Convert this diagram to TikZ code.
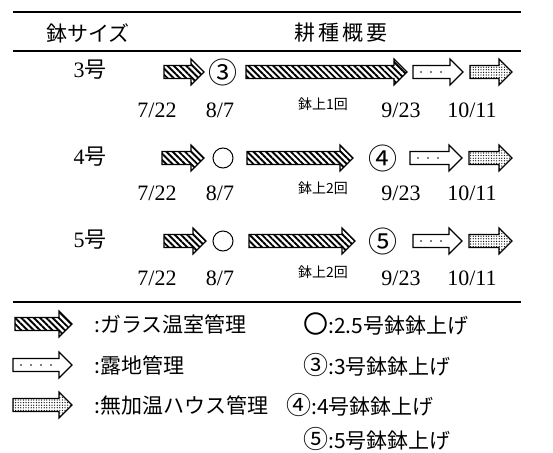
\documentclass[tikz,border=0pt]{standalone}
\usepackage{fontspec}
\setmainfont{Liberation Serif}
\newfontfamily\jp{Noto Sans CJK JP}
\usetikzlibrary{patterns,patterns.meta}
\tikzset{
  glass/.style={draw=black, line width=1.2pt, fill=white, postaction={pattern={Lines[angle=-45,distance=4.4pt,line width=1.9pt]}}},
  openfield/.style={draw=black, line width=1.2pt, fill=white},
  house/.style={draw=black, line width=1.2pt, fill=white, postaction={pattern={Dots[distance=2.6pt,radius=0.65pt]}}},
  rule/.style={line width=2.2pt},
  datelbl/.style={font=\fontsize{22}{24}\selectfont, inner sep=0pt},
  sizelbl/.style={font=\fontsize{22}{24}\selectfont, inner sep=0pt},
  potlbl/.style={font=\jp\fontsize{14}{16}\selectfont, inner sep=0pt},
  circnum/.style={font=\jp\fontsize{29}{30}\selectfont, inner sep=0pt},
  legtxt/.style={font=\jp\fontsize{21}{24}\selectfont, inner sep=0pt, anchor=west},
  hdr/.style={font=\jp\fontsize{21}{24}\selectfont, inner sep=0pt},
}
\newcommand\bigc[1]{{\fontsize{25}{26}\selectfont #1}}
% #1 style, #2 x start, #3 x end, #4 y centre
\newcommand\parrow[4]{%
  \draw[#1] (#2,{#4-6.5}) -- ({#3-13},{#4-6.5}) -- ({#3-13},{#4-13}) -- (#3,#4)
    -- ({#3-13},{#4+13}) -- ({#3-13},{#4+6.5}) -- (#2,{#4+6.5}) -- cycle;}
\newcommand\darrow[3]{%
  \parrow{openfield}{#1}{#2}{#3}%
  \foreach \dx in {8,18,...,200}{%
    \pgfmathsetmacro\xx{#1+\dx}%
    \pgfmathparse{\xx<#2-16 ? 1 : 0}%
    \ifnum\pgfmathresult=1 \fill (\xx,#3) circle (0.8pt);\fi}}
\begin{document}
\begin{tikzpicture}[x=1pt,y=-1pt]
\useasboundingbox (0,0) rectangle (553,452);
% rules
\coordinate (t1) at (13,12); \coordinate (t2) at (521,12);
\coordinate (h1) at (13,51); \coordinate (h2) at (521,51);
\coordinate (b1) at (13,302); \coordinate (b2) at (521,302);
\draw[rule, line width=2.8pt] (t1) -- (t2);
\draw[rule, line width=1.8pt] (h1) -- (h2);
\draw[rule, line width=2pt] (b1) -- (b2);
% header
\node[hdr] (hsize) at (88,33) {鉢サイズ};
\node[hdr] (hsumm) at (341,33) {耕\hspace{3pt}種\hspace{3pt}概\hspace{3pt}要};
% row 1
\node[sizelbl] (s3) at (90,70) {3{\jp 号}};
\parrow{glass}{164}{204}{72}
\node[circnum] (c3) at (223,72) {③};
\parrow{glass}{246}{407}{72}
\darrow{413}{463}{72}
\parrow{house}{470}{512}{72}
\node[datelbl] (d11) at (157,110) {7/22};
\node[datelbl] (d12) at (220,110) {8/7};
\node[potlbl]  (p1)  at (323,104) {鉢上1回};
\node[datelbl] (d13) at (401,110) {9/23};
\node[datelbl] (d14) at (472,110) {10/11};
% row 2
\node[sizelbl] (s4) at (90,157) {4{\jp 号}};
\parrow{glass}{162}{204}{158}
\draw[line width=1pt] (223,158) circle (10);
\node[inner sep=0pt] (o2) at (223,158) {};
\parrow{glass}{247}{353}{158}
\node[circnum] (c4) at (383,158) {④};
\darrow{410}{462}{158}
\parrow{house}{469}{512}{158}
\node[datelbl] (d21) at (157,193) {7/22};
\node[datelbl] (d22) at (220,193) {8/7};
\node[potlbl]  (p2)  at (323,188) {鉢上2回};
\node[datelbl] (d23) at (401,193) {9/23};
\node[datelbl] (d24) at (472,193) {10/11};
% row 3
\node[sizelbl] (s5) at (90,240) {5{\jp 号}};
\parrow{glass}{164}{206}{241}
\draw[line width=1pt] (223,241) circle (10);
\node[inner sep=0pt] (o3) at (223,241) {};
\parrow{glass}{249}{355}{241}
\node[circnum] (c5) at (383,241) {⑤};
\darrow{413}{462}{241}
\parrow{house}{469}{512}{241}
\node[datelbl] (d31) at (157,278) {7/22};
\node[datelbl] (d32) at (220,278) {8/7};
\node[potlbl]  (p3)  at (323,272) {鉢上2回};
\node[datelbl] (d33) at (401,278) {9/23};
\node[datelbl] (d34) at (472,278) {10/11};
% legend
\parrow{glass}{15}{72}{324}
\node[legtxt] (l1) at (94,324) {:ガラス温室管理};
\darrow{13}{72}{365}
\node[legtxt] (l2) at (94,365) {:露地管理};
\parrow{house}{13}{72}{405}
\node[legtxt] (l3) at (94,405) {:無加温ハウス管理};
\node[legtxt] (r1) at (303,324) {\bigc{〇}:2.5号鉢鉢上げ};
\node[legtxt] (r2) at (303,365) {\bigc{③}:3号鉢鉢上げ};
\node[legtxt] (r3) at (286,405) {\bigc{④}:4号鉢鉢上げ};
\node[legtxt] (r4) at (303,439) {\bigc{⑤}:5号鉢鉢上げ};
\end{tikzpicture}
\end{document}
